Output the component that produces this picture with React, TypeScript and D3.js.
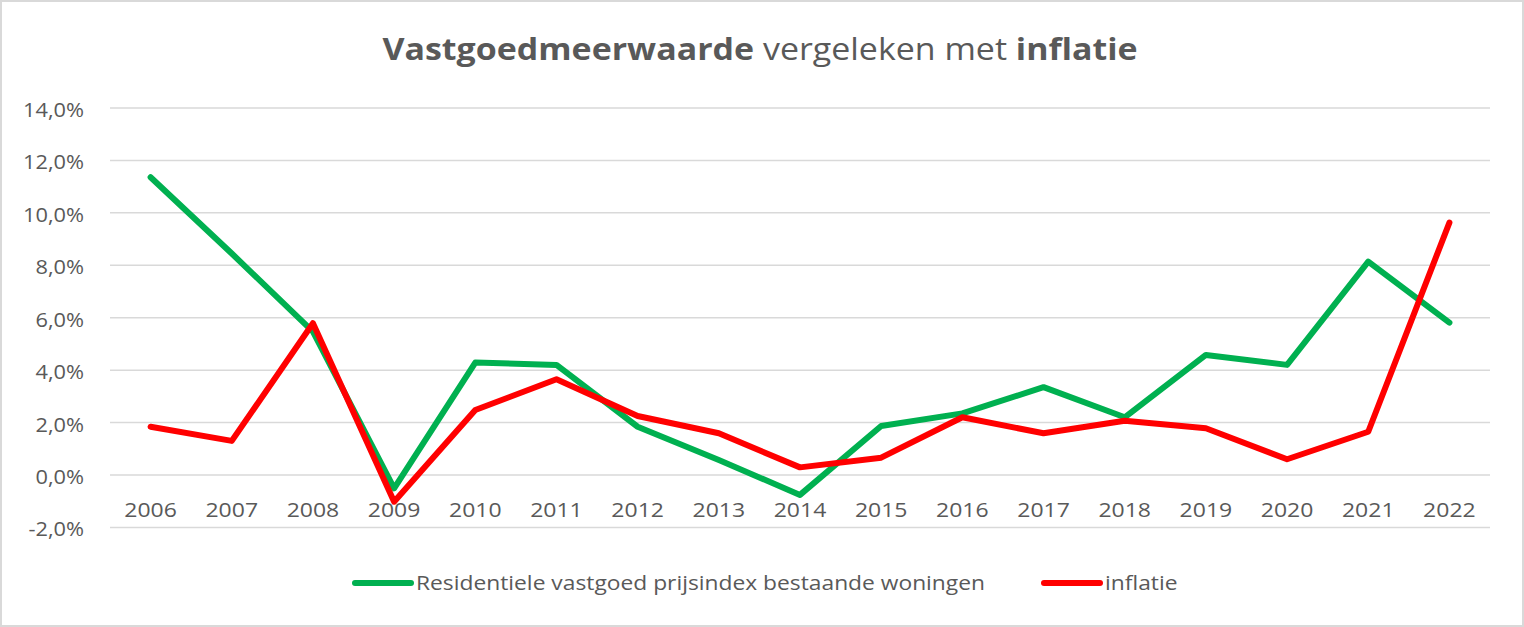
import React, { useEffect, useRef } from 'react';
import * as d3 from 'd3';

const years = ['2006', '2007', '2008', '2009', '2010', '2011', '2012', '2013', '2014', '2015', '2016', '2017', '2018', '2019', '2020', '2021', '2022'];
// Residentiele vastgoed prijsindex bestaande woningen (%)
const vastgoed = [11.36, 8.45, 5.47, -0.51, 4.29, 4.2, 1.84, 0.57, -0.76, 1.87, 2.35, 3.35, 2.2, 4.58, 4.2, 8.14, 5.81];
// inflatie (%)
const inflatie = [1.84, 1.3, 5.79, -1.02, 2.48, 3.65, 2.25, 1.59, 0.29, 0.66, 2.2, 1.59, 2.07, 1.78, 0.6, 1.65, 9.63];
const yTicks = [-2, 0, 2, 4, 6, 8, 10, 12, 14];
const seriesNames = ['Residentiele vastgoed prijsindex bestaande woningen', 'inflatie'];

const W = 1524;
const H = 627;
const FONT = '"Open Sans", sans-serif';
const TEXT = '#595959';

const App = () => {
    const svgRef = useRef<SVGSVGElement>(null);

    useEffect(() => {
        document.body.style.margin = '0';
        const svg = d3.select(svgRef.current);
        svg.selectAll('*').remove();

        // chart frame
        svg.append('rect')
            .attr('x', 1).attr('y', 1)
            .attr('width', W - 2).attr('height', H - 2)
            .attr('fill', '#fff')
            .attr('stroke', '#d9d9d9')
            .attr('stroke-width', 2);

        const x = d3.scaleBand().domain(years).range([110, 1490]);
        const y = d3.scaleLinear().domain([-2, 14]).range([527.4, 108]);
        const cx = (d: string) => (x(d) as number) + x.bandwidth() / 2;

        // the source image is stretched sideways, so text gets a horizontal scale
        const place = (px: number, py: number, sx: number) => `translate(${px},${py}) scale(${sx},1)`;

        // title
        const title = svg.append('text')
            .attr('transform', place(760, 60, 1.095))
            .attr('text-anchor', 'middle')
            .attr('font-family', FONT)
            .attr('font-size', 31)
            .attr('fill', TEXT);
        title.append('tspan').attr('font-weight', 'bold').text('Vastgoedmeerwaarde');
        title.append('tspan').text(' vergeleken met ');
        title.append('tspan').attr('font-weight', 'bold').text('inflatie');

        // gridlines
        svg.append('g')
            .selectAll('line')
            .data(yTicks)
            .enter()
            .append('line')
            .attr('x1', 110).attr('x2', 1490)
            .attr('y1', d => y(d)).attr('y2', d => y(d))
            .attr('stroke', '#d9d9d9')
            .attr('stroke-width', 1.5);

        // y labels
        svg.append('g')
            .selectAll('text')
            .data(yTicks)
            .enter()
            .append('text')
            .attr('transform', d => place(84, y(d) + 2, 1.09))
            .attr('dy', '0.35em')
            .attr('text-anchor', 'end')
            .attr('font-family', FONT)
            .attr('font-size', 20)
            .attr('fill', TEXT)
            .text(d => d.toFixed(1).replace('.', ',') + '%');

        // x labels
        svg.append('g')
            .selectAll('text')
            .data(years)
            .enter()
            .append('text')
            .attr('transform', d => place(cx(d), 517, 1.15))
            .attr('text-anchor', 'middle')
            .attr('font-family', FONT)
            .attr('font-size', 20)
            .attr('fill', TEXT)
            .text(d => d);

        // lines
        const line = d3.line<number>()
            .x((d, i) => cx(years[i]))
            .y(d => y(d));

        [[vastgoed, '#00b050'], [inflatie, '#ff0000']].forEach(([vals, color]) => {
            svg.append('path')
                .datum(vals as number[])
                .attr('d', line)
                .attr('fill', 'none')
                .attr('stroke', color as string)
                .attr('stroke-width', 6)
                .attr('stroke-linejoin', 'round')
                .attr('stroke-linecap', 'round');
        });

        // legend
        const legend = [
            { name: seriesNames[0], color: '#00b050', x: 355 },
            { name: seriesNames[1], color: '#ff0000', x: 1044 },
        ];
        const lg = svg.append('g');
        legend.forEach(l => {
            lg.append('line')
                .attr('x1', l.x).attr('x2', l.x + 56)
                .attr('y1', 583).attr('y2', 583)
                .attr('stroke', l.color)
                .attr('stroke-width', 6)
                .attr('stroke-linecap', 'round');
            lg.append('text')
                .attr('transform', place(l.x + 61, 583, 1.14))
                .attr('dy', '0.35em')
                .attr('font-family', FONT)
                .attr('font-size', 20)
                .attr('fill', TEXT)
                .text(l.name);
        });
    }, []);

    return <svg ref={svgRef} width={W} height={H} style={{ display: 'block' }} />;
};

export default App;
